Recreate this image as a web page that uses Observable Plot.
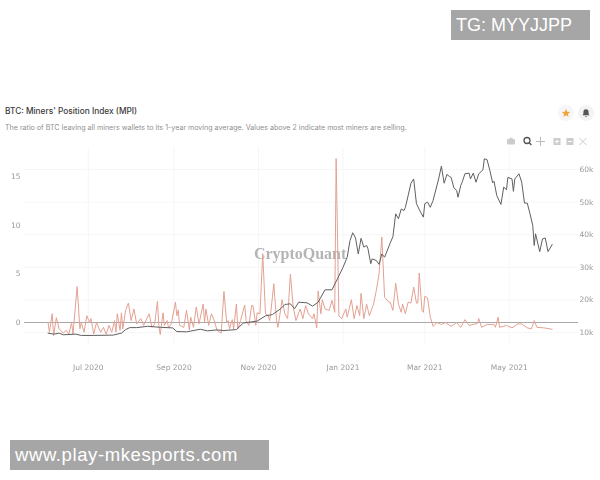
<!DOCTYPE html>
<html>
<head>
<meta charset="utf-8">
<script src="https://cdn.jsdelivr.net/npm/d3@7"></script>
<script src="https://cdn.jsdelivr.net/npm/@observablehq/plot@0.6"></script>
<style>
html,body{margin:0;padding:0;background:#fff;}
#page{position:relative;width:600px;height:480px;overflow:hidden;font-family:Inter,"Noto Sans",sans-serif;}
#page>div{position:absolute;white-space:nowrap;}
#chart{left:0;top:0;filter:blur(0.3px);}
#chart svg{display:block;}
#title{left:5px;top:106px;font-size:8.3px;font-weight:500;color:#3c3c3c;}
#subtitle{left:5px;top:123px;font-size:7.1px;color:#8f8f8f;}
.box{background:#a6a6a6;color:#fff;font-family:"Liberation Sans",sans-serif;font-size:18px;font-weight:400;box-sizing:border-box;}
#tg{left:451px;top:10px;width:139px;height:30px;line-height:30px;padding-left:5px;}
#site{left:10px;top:440px;width:259px;height:30px;line-height:29px;padding-left:5px;font-size:18.5px;letter-spacing:0.6px;}
#icons{left:0;top:0;}
</style>
</head>
<body>
<div id="page">
  <div id="chart"></div>
  <div id="title">BTC: Miners' Position Index (MPI)</div>
  <div id="subtitle">The ratio of BTC leaving all miners wallets to its 1-year moving average. Values above 2 indicate most miners are selling.</div>
  <div id="tg" class="box">TG: MYYJJPP</div>
  <div id="site" class="box">www.play-mkesports.com</div>
  <div id="icons">
    <svg width="600" height="160" style="display:block">
      <circle cx="566" cy="113" r="8" fill="#f6f6f6"/>
      <circle cx="586" cy="113" r="8" fill="#f3f3f3"/>
      <path d="M566 109l1.2 2.7 2.9.3-2.2 1.9.7 2.9-2.6-1.5-2.6 1.5.7-2.9-2.2-1.9 2.9-.3z" fill="#f2a33a"/>
      <path d="M586 109.2c-1.8 0-2.6 1.3-2.6 3v1.8l-1 1.2h7.2l-1-1.2v-1.8c0-1.7-.8-3-2.6-3zM585 116h2l-1 1.2z" fill="#555"/>
      <g fill="none" stroke="#bbb" stroke-width="1">
        <rect x="507" y="139" width="8" height="5.5" rx="1" fill="#ccc" stroke="none"/>
        <rect x="509.5" y="137.8" width="3" height="2" fill="#ccc" stroke="none"/>
        <circle cx="527" cy="140.5" r="3" stroke="#555" stroke-width="1.3"/>
        <path d="M529.2 142.8l2.2 2.2" stroke="#555" stroke-width="1.4"/>
        <path d="M540.5 137v9M536 141.5h9"/>
        <rect x="553.5" y="138" width="7" height="7" fill="#ccc" stroke="none"/>
        <path d="M557 139.5v4M555 141.5h4" stroke="#fff"/>
        <rect x="566.5" y="138" width="7" height="7" fill="#ccc" stroke="none"/>
        <path d="M568 141.5h4" stroke="#fff"/>
        <path d="M579.5 138l7 7M586.5 138l-7 7" stroke="#ccc"/>
      </g>
    </svg>
  </div>
</div>
<script>
const startDate = new Date(Date.UTC(2020, 5, 1));
const xTicks = ["2020-07-01","2020-09-01","2020-11-01","2021-01-01","2021-03-01","2021-05-01"];
const xTickLabels = ["Jul 2020","Sep 2020","Nov 2020","Jan 2021","Mar 2021","May 2021"];
const leftTicks = [0,5,10,15];
const priceTicks = [10000,20000,30000,40000,50000,60000];
const priceTickLabels = ["10k","20k","30k","40k","50k","60k"];

const mpiDays = [1,2,4,5,7,9,12,14,16,18,19,22,24,25,27,29,31,32,34,36,39,41,43,45,47,49,50,51,53,54,55,57,59,61,63,65,68,70,74,76,78,80,81,82,84,85,87,88,90,93,94,95,96,99,101,103,104,106,108,110,113,114,115,117,119,121,123,126,128,130,131,132,134,135,137,138,140,143,144,146,148,149,151,152,154,156,158,160,161,162,164,166,167,170,172,174,176,178,180,183,185,187,189,192,193,195,196,198,199,201,204,206,208,209,211,213,216,217,220,222,224,226,227,229,231,233,236,238,240,242,244,247,248,250,252,254,256,257,259,261,263,265,267,268,269,271,272,273,275,277,279,282,285,288,292,296,299,302,305,308,311,312,314,318,323,324,326,327,332,336,340,343,347,350,352,354,359,365];
const mpiValues = [0,-1,0.9,-1.35,0.5,-0.65,-1.1,-0.8,-1.2,0,-1.2,3.7,-0.65,0,-1,0.7,0,0.4,-1.2,0,-1,-0.5,-1.2,-0.3,-1,0.2,-1,0.9,-0.8,1,-0.65,1.25,2,0.2,1.4,-0.15,0.4,-0.3,0.9,-0.5,-0.15,2.2,-0.3,-1.25,1,-0.3,0.2,-0.55,-0.15,2.1,0.7,1.3,-0.3,-0.5,1.25,-0.75,0.55,-0.5,1.6,-0.15,1.9,0,1.4,-0.3,0.9,0.2,-0.8,-1.1,3.2,0,0.2,-0.65,0.3,-0.65,1.9,-0.65,0.2,1.8,0.2,-0.3,1.75,1.75,-0.3,1,0.9,7.1,0.9,0.7,0.2,1.25,4,0.2,-0.5,2.35,0.9,0.4,5,1.6,0.2,1.4,0.4,1.75,0.9,0.4,0.9,-0.55,3.25,0.9,2.35,1.4,1.25,2.3,1.05,16.9,0.7,0.4,1.4,0.55,2.35,0.4,1.75,0.7,3,0.4,1.9,0.7,1.9,3.3,5,8.8,2.6,2.1,2.1,1.25,4.05,1.9,1.05,1.9,0.9,2.1,2,3.65,2,2,5.1,1.25,1.05,2.7,2.55,0.55,-0.4,0,-0.2,0,-0.4,0,-0.5,0.3,-0.3,-0.2,-0.1,0.4,-0.5,-0.2,-0.2,-0.5,0.55,-0.5,-0.3,-0.55,-0.15,-0.15,-0.55,-0.65,0.2,-0.5,-0.55,-0.7];

const btcDays = [1,5,9,12,21,25,34,48,54,57,60,65,73,82,91,94,101,111,116,123,128,137,142,152,158,163,169,172,176,179,182,188,192,196,201,206,210,214,217,219,221,223,225,227,229,231,232,234,235,238,240,242,244,248,250,252,254,256,258,259,261,263,265,267,270,272,273,275,277,279,283,285,287,289,291,292,294,296,297,299,300,302,305,306,308,310,312,315,316,318,320,322,323,325,328,330,332,333,336,337,338,341,343,345,347,349,351,352,353,356,358,360,362,365];
const btcPrices = [9800,9500,9800,9300,9500,9100,9100,9200,9800,10900,11500,11500,11900,11600,11400,10300,10200,11000,10500,10800,10600,10900,12900,13500,15100,15500,17300,18600,18800,17300,19300,19100,18100,19300,23100,23100,26500,30000,33100,38200,40600,39000,34100,38900,36200,36700,35700,31100,32600,32100,30900,34100,33100,37400,39400,46400,44900,47900,47400,48400,52000,55800,57100,49500,46900,45400,49500,50000,48400,50500,57100,61000,55800,58500,57800,57600,54400,53600,51500,55100,56100,58700,58900,57100,58900,56100,58700,59900,63300,63000,59700,55900,56400,52000,49300,54600,53800,57600,57100,53300,57100,58700,56100,49700,49700,46400,42800,36700,40300,34800,38700,39000,34800,37000];

const toDate = d => d3.utcDay.offset(startDate, d);
const priceToMpi = d3.scaleLinear().domain([10000,60000]).range([-1.03,15.77]);

const mpi = mpiDays.map((d,i) => ({date: toDate(d), value: mpiValues[i]}));
const btc = btcDays.map((d,i) => ({date: toDate(d), value: priceToMpi(btcPrices[i])}));
const tickDates = xTicks.map(s => new Date(s + "T00:00:00Z"));
const labelByDate = new Map(tickDates.map((d,i) => [+d, xTickLabels[i]]));
const priceLevels = priceTicks.map(priceToMpi);
const labelByLevel = new Map(priceLevels.map((v,i) => [v, priceTickLabels[i]]));

const chart = Plot.plot({
  width: 600, height: 480,
  marginTop: 147, marginBottom: 135, marginLeft: 24, marginRight: 22,
  style: {background: "transparent", fontFamily: "'DejaVu Sans',sans-serif", fontSize: "7.5px", color: "#999"},
  x: {type: "utc", domain: [new Date(Date.UTC(2020,4,16)), new Date(Date.UTC(2021,5,20))]},
  y: {domain: [-2.37, 18.04]},
  marks: [
    Plot.ruleX(tickDates, {stroke: "#f6f6f6", strokeWidth: 1}),
    Plot.ruleY(priceLevels, {stroke: "#f6f6f6", strokeWidth: 1}),
    Plot.ruleY([0], {stroke: "#a8a8a8", strokeWidth: 1.2}),
    Plot.text(["CryptoQuant"], {
      x: () => new Date(Date.UTC(2020,11,1)), y: () => 7.1, text: d => d,
      fontFamily: "'Liberation Serif',serif", fontSize: 16, fontWeight: 700, fill: "#b4b4b4"
    }),
    Plot.line(mpi, {x: "date", y: "value", stroke: "#e3a192", strokeWidth: 1, curve: "linear"}),
    Plot.line(btc, {x: "date", y: "value", stroke: "#5f5f5f", strokeWidth: 1, curve: "linear"}),
    Plot.axisX({ticks: tickDates, tickFormat: d => labelByDate.get(+d), tickSize: 0, tickPadding: 19, fill: "#999", label: null}),
    Plot.axisY({ticks: leftTicks, anchor: "left", tickSize: 0, tickPadding: 4, fill: "#999", label: null}),
    Plot.axisY({ticks: priceLevels, tickFormat: d => labelByLevel.get(d), anchor: "right", tickSize: 0, tickPadding: 1, fill: "#999", label: null})
  ]
});
document.getElementById("chart").appendChild(chart);
</script>
</body>
</html>
